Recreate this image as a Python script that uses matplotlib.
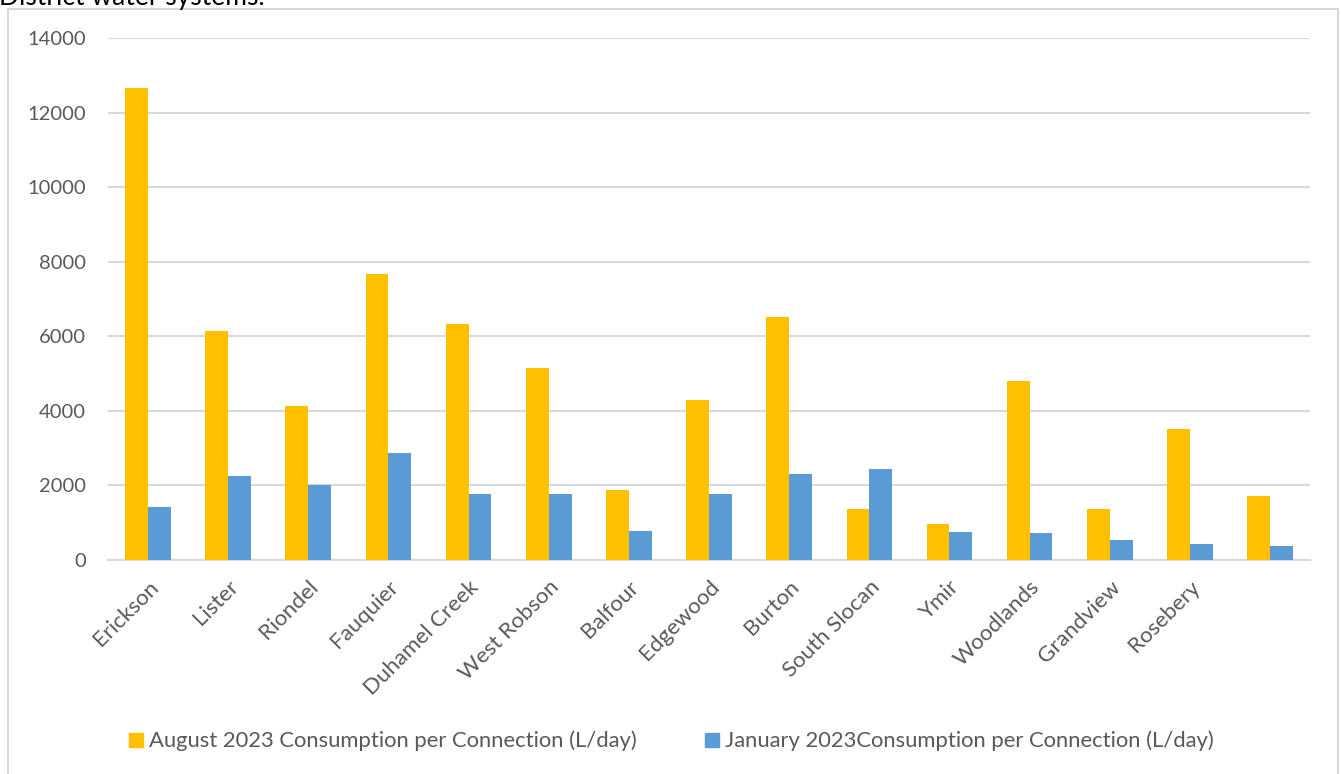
import numpy as np
import matplotlib.pyplot as plt
from matplotlib.lines import Line2D

plt.rcParams['font.family'] = ['Lato', 'DejaVu Sans']

# Per-connection consumption for each water system
systems = ['Erickson', 'Lister', 'Riondel', 'Fauquier', 'Duhamel Creek', 'West Robson',
           'Balfour', 'Edgewood', 'Burton', 'South Slocan', 'Ymir', 'Woodlands',
           'Grandview', 'Rosebery', '']
august = [12660, 6135, 4125, 7680, 6330, 5145, 1865, 4300, 6505, 1366, 975, 4795, 1366, 3510, 1705]
january = [1415, 2245, 2005, 2880, 1760, 1770, 790, 1780, 2315, 2430, 742, 715, 528, 430, 375]
series_names = ['August 2023 Consumption per Connection (L/day)',
                'January 2023Consumption per Connection (L/day)']
colors = ['#FFC000', '#5B9BD5']
grey_text = '#595959'
grid_grey = '#D9D9D9'

fig = plt.figure(figsize=(13.41, 7.74), dpi=100)
ax = fig.add_axes([0.0805, 0.2765, 0.8965, 0.6745])

x = np.arange(len(systems))
w = 0.285
ax.bar(x - w / 2, august, w, color=colors[0], label=series_names[0], zorder=3)
ax.bar(x + w / 2, january, w, color=colors[1], label=series_names[1], zorder=3)

ax.set_xlim(-0.5, len(systems) - 0.5)
ax.set_ylim(0, 14000)
ax.set_yticks(np.arange(0, 14001, 2000))
ax.yaxis.grid(True, color=grid_grey, linewidth=1.5, zorder=0)
ax.set_axisbelow(True)

for s in ['left', 'right', 'top']:
    ax.spines[s].set_visible(False)
ax.spines['bottom'].set_color(grid_grey)
ax.spines['bottom'].set_linewidth(1.5)

ax.tick_params(axis='y', length=0, pad=16, labelsize=14.5, labelcolor=grey_text)
ax.tick_params(axis='x', length=0, pad=12)
ax.set_xticks(x)
ax.set_xticklabels(systems, rotation=45, ha='right', va='top', rotation_mode='anchor',
                   fontsize=16, color=grey_text)

# legend along the bottom of the chart area
handles = [Line2D([], [], marker='s', linestyle='none', markersize=10,
                  markerfacecolor=c, markeredgecolor=c) for c in colors]
fig.legend(handles, series_names, loc='center', bbox_to_anchor=(0.5, 1 - 741 / 774),
           ncol=2, frameon=False, fontsize=15.8, labelcolor=grey_text,
           handlelength=0.8, handletextpad=0.2, columnspacing=3.0)

# chart area border
bx0, bx1, by = 8 / 1341, 1338 / 1341, 1 - 9 / 774
fig.add_artist(Line2D([bx0, bx0, bx1, bx1], [0, by, by, 0], color=grid_grey,
                      linewidth=1.5, transform=fig.transFigure))

fig.text(-0.001, 1 - 5 / 774, 'District water systems.', fontsize=19, color='black',
         ha='left', va='baseline')

fig.savefig('out.png', dpi=100)
